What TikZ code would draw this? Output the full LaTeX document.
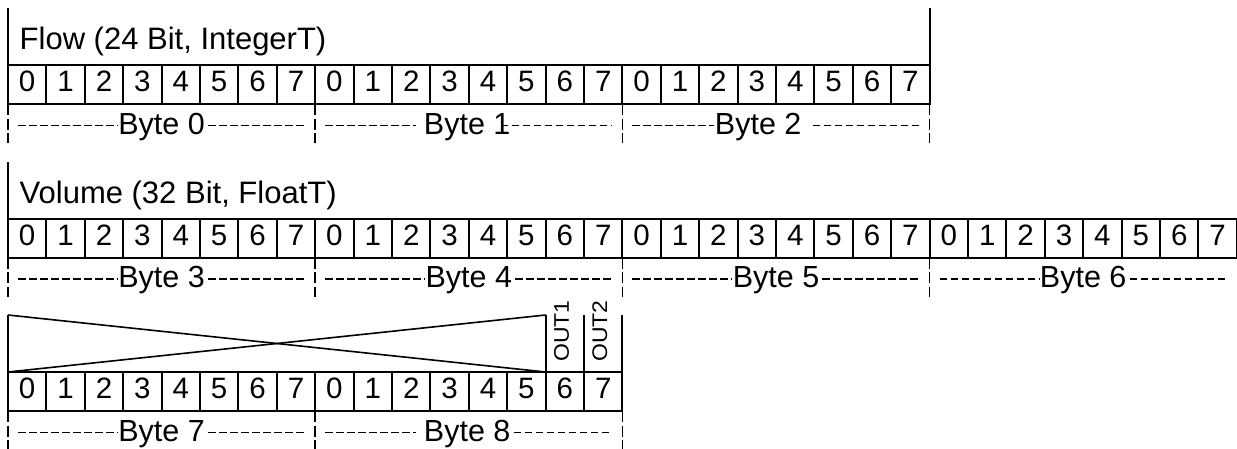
\documentclass[tikz,border=0pt]{standalone}
\usepackage{fontspec}
\setmainfont{Liberation Sans}
\usetikzlibrary{calc}
\begin{document}
\begin{tikzpicture}[x=1pt,y=-1pt,
  cell/.style={draw, line width=2pt, minimum width=38.4pt, minimum height=39pt,
    inner sep=0pt, outer sep=0pt, font=\fontsize{29.5}{29.5}\selectfont, text depth=6pt},
  edge/.style={line width=2pt},
  tick/.style={line width=1.6pt, dash pattern=on 11pt off 3.5pt},
  hdash/.style={line width=1.8pt, dash pattern=on 7.5pt off 3.5pt},
  title/.style={font=\fontsize{31}{31}\selectfont, inner sep=0pt, anchor=base west},
  bytelbl/.style={font=\fontsize{30.5}{30.5}\selectfont, inner sep=0pt, anchor=base},
  outlbl/.style={font=\fontsize{23}{23}\selectfont, inner sep=0pt, anchor=base west, rotate=90},
  diag/.style={line width=1.6pt}
]
\useasboundingbox (0,0) rectangle (1237,448);

% bit cells
\foreach \r/\yt/\n in {1/65/23, 2/218.5/31, 3/372/15} {
  \foreach \i in {0,...,\n} {
    \pgfmathtruncatemacro\dg{mod(\i,8)}
    \node[cell] (c\r-\i) at ({8+38.4*\i+19.2}, {\yt+19.5}) {\dg};
  }
}

% byte boundary ticks
\foreach \r/\yb/\m in {1/104/3, 2/257.5/3, 3/411/2} {
  \foreach \k in {0,...,\m} {
    \coordinate (t\r-\k) at ({8+307.2*\k}, \yb);
    \coordinate (u\r-\k) at ({8+307.2*\k}, \yb+39);
    \draw[tick] (t\r-\k) -- (u\r-\k);
  }
}
\coordinate (t2-4) at (1237.2, 257.5);

% byte labels with dashed lines
\foreach \b/\r/\k/\dx/\gl/\gr in {0/1/0/0/1/3, 1/1/1/-1.6/7.7/-9.7, 2/1/2/-17.8/1/11,
    3/2/0/0/1/3, 4/2/1/0/1/3, 5/2/2/0/1/3, 6/2/3/0/1/3, 7/3/0/0/1/3, 8/3/1/-1.6/7.7/3} {
  \pgfmathsetmacro\lx{8+307.2*\k+153.6+\dx}
  \pgfmathsetmacro\ly{134+153.5*(\r-1)}
  \pgfmathtruncatemacro\kn{\k+1}
  \node[bytelbl] (byte\b) at (\lx,\ly) {Byte \b};
  \draw[hdash] ($(t\r-\k |- byte\b.base)+(10,-8.5)$) -- ($(byte\b.base west)+(-\gl,-8.5)$);
  \draw[hdash] ($(byte\b.base east)+(\gr,-8.5)$) -- ($(t\r-\kn |- byte\b.base)+(-10,-8.5)$);
}

% titles and their frame lines
\node[title] (flow) at (19.5,49) {Flow (24 Bit, IntegerT)};
\node[title] (vol) at (19.5,203) {Volume (32 Bit, FloatT)};
\draw[edge] (c1-0.north west) -- ++(0,-57);
\draw[edge] (c1-23.south east) -- ++(0,-96);
\draw[edge] (c2-0.north west) -- ++(0,-56.5);

% crossed box and outputs in row 3
\coordinate (xa) at ($(c3-0.north west)+(0,-57)$);
\coordinate (xb) at ($(c3-13.north east)+(0,-57)$);
\draw[edge] (c3-0.north west) -- (xa);
\draw[edge] (c3-13.north east) -- (xb);
\draw[diag] (xa) -- (c3-13.north east);
\draw[diag] (c3-0.north west) -- (xb);
\draw[edge] (c3-14.north east) -- ++(0,-57);
\draw[edge] (c3-15.north east) -- ++(0,-57);
\node[outlbl] (out1) at ($(c3-14.north)+(4,-10)$) {\scalebox{1}[0.92]{OUT1}};
\node[outlbl] (out2) at ($(c3-15.north)+(3.8,-10)$) {\scalebox{1}[0.92]{OUT2}};
\end{tikzpicture}
\end{document}
